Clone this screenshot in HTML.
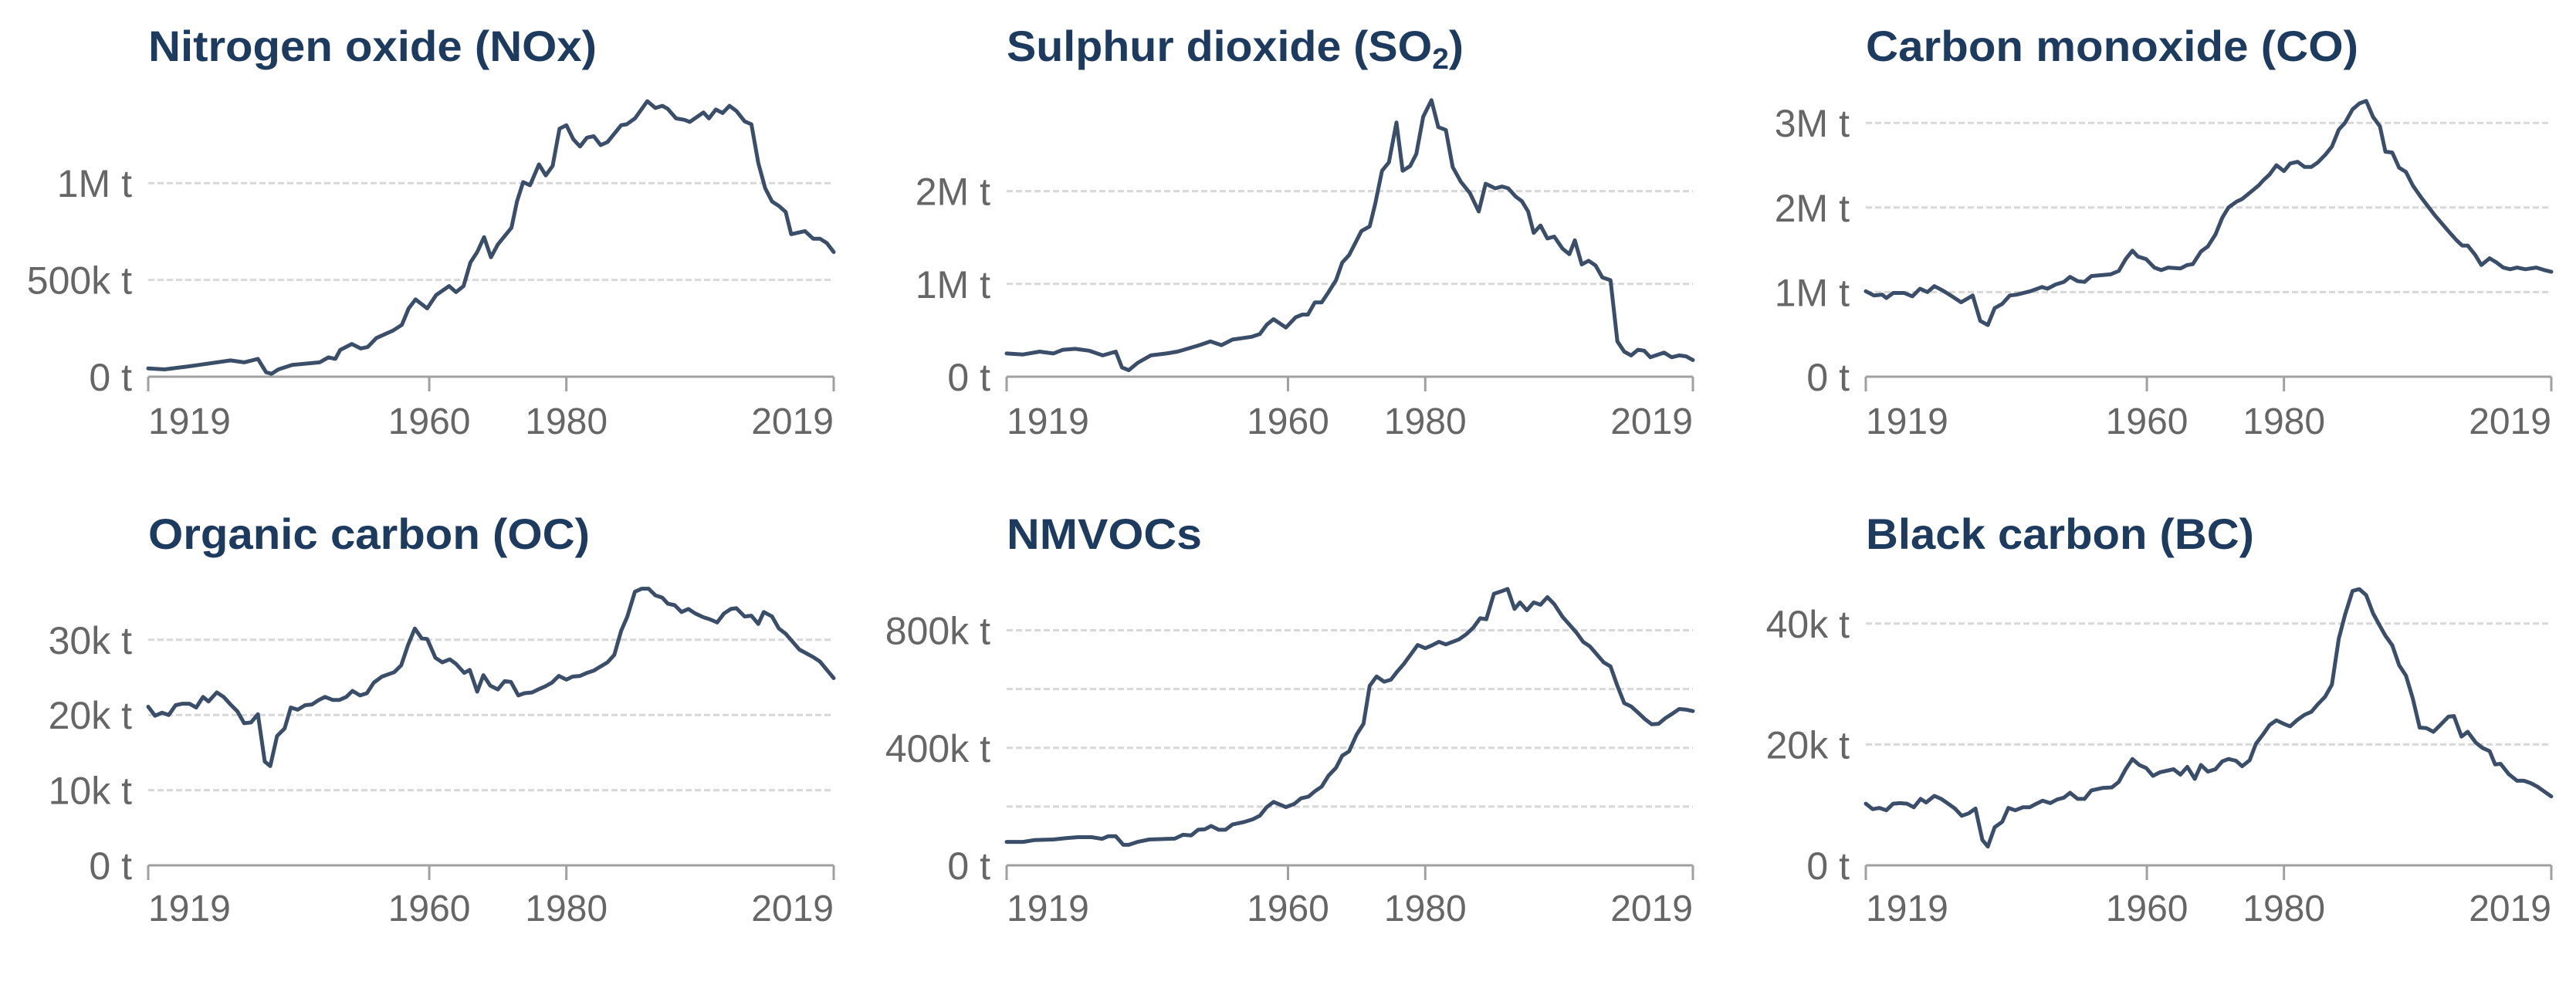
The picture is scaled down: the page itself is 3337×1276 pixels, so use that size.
<!DOCTYPE html>
<html>
<head>
<meta charset="utf-8">
<style>
html,body{margin:0;padding:0;background:#fff;}
svg{display:block;}
</style>
</head>
<body>
<svg id="chart" width="3337" height="1276" viewBox="0 0 3337 1276" xmlns="http://www.w3.org/2000/svg"></svg>
<script>
const xTicks = [1919, 1960, 1980, 2019];

const noxYears = [1919,1921.4,1925,1931,1933,1935,1936.2,1937,1938,1940,1944,1945.3,1946.3,1947,1948.7,1950,1951,1952.3,1954.7,1956,1957,1958,1959.7,1961,1962.9,1963.9,1965,1966,1967,1968,1969,1970,1972,1972.8,1973.7,1974.7,1976,1977,1978,1979,1980,1981,1982,1983,1984,1985,1986,1988,1988.8,1990,1991.8,1993,1994,1994.8,1996,1997.2,1998,2000,2000.8,2001.8,2002.8,2003.8,2004.8,2006,2007,2008,2009,2010,2011,2012,2012.8,2014.8,2016,2017,2018,2019];
const noxValues = [43,38,54,84,74,92,23,15,38,61,74,100,92,138,169,146,153,200,238,268,353,399,353,422,468,437,468,590,644,721,617,683,770,905,1005,989,1097,1040,1089,1281,1299,1227,1189,1235,1242,1196,1212,1299,1304,1334,1423,1388,1399,1383,1334,1327,1316,1365,1334,1380,1362,1399,1373,1319,1304,1104,974,905,882,851,736,752,713,713,690,644];

const so2Years = [1919,1921.4,1923.8,1925.8,1927.2,1929,1931,1933,1934.9,1935.8,1936.8,1938.1,1940,1942.3,1943.9,1945.3,1947.1,1948.7,1950.3,1951.9,1954.7,1955.9,1956.9,1957.9,1959.7,1961.1,1962.1,1962.9,1963.9,1964.9,1965.9,1967,1967.9,1968.9,1970.7,1971.9,1972.7,1973.7,1974.7,1975.8,1976.7,1977.8,1978.7,1979.7,1980.9,1981.9,1983,1984,1985.2,1986.5,1987.8,1988.8,1990.2,1991.2,1992.1,1993.2,1994.1,1995,1995.8,1996.8,1997.8,1998.8,2000,2001,2001.8,2002.8,2003.8,2004.8,2005.8,2007,2008,2009,2010,2011,2011.9,2012.8,2014.8,2015.9,2017,2018,2019];
const so2Values = [0.25,0.24,0.27,0.25,0.29,0.30,0.28,0.23,0.27,0.10,0.07,0.15,0.23,0.25,0.27,0.30,0.34,0.38,0.34,0.40,0.43,0.46,0.56,0.62,0.53,0.64,0.67,0.67,0.80,0.80,0.91,1.04,1.23,1.31,1.57,1.62,1.86,2.22,2.31,2.74,2.22,2.27,2.40,2.80,2.98,2.69,2.66,2.26,2.10,1.98,1.78,2.08,2.03,2.05,2.03,1.94,1.89,1.78,1.55,1.63,1.49,1.51,1.38,1.32,1.47,1.21,1.25,1.20,1.07,1.04,0.38,0.27,0.23,0.29,0.28,0.21,0.26,0.21,0.23,0.22,0.18];

const coYears = [1919,1920.2,1921.4,1922,1923,1924.6,1925.8,1926.9,1928,1929,1930.2,1931.4,1932.9,1934.6,1935.7,1936.8,1937.8,1938.9,1940,1941,1943,1944.7,1945.5,1946.7,1947.9,1948.8,1949.9,1950.9,1951.9,1954.7,1955.9,1956.9,1957.9,1958.7,1959.9,1961.1,1962.1,1963.1,1964.9,1965.9,1966.7,1967.9,1968.9,1970,1971,1971.9,1973.1,1973.9,1975.1,1976.3,1977.1,1977.9,1978.9,1980,1980.9,1982,1983,1984,1984.9,1986,1987,1988,1988.9,1990,1991,1992,1993,1994,1994.8,1995.8,1996.8,1997.8,1998.8,2000,2002,2004,2005.2,2006,2006.8,2007.9,2008.8,2010,2011,2012,2013,2014,2015.2,2016.8,2018,2019];
const coValues = [1.01,0.96,0.97,0.93,0.99,0.99,0.95,1.04,1.00,1.07,1.02,0.96,0.88,0.96,0.66,0.61,0.81,0.86,0.96,0.97,1.01,1.06,1.04,1.09,1.12,1.18,1.13,1.12,1.19,1.21,1.25,1.39,1.49,1.42,1.39,1.29,1.26,1.29,1.28,1.32,1.33,1.48,1.54,1.68,1.88,2.00,2.07,2.10,2.18,2.26,2.33,2.39,2.50,2.43,2.52,2.54,2.48,2.48,2.53,2.62,2.72,2.92,3.00,3.16,3.23,3.26,3.07,2.96,2.66,2.65,2.47,2.42,2.26,2.12,1.91,1.72,1.61,1.55,1.55,1.44,1.32,1.40,1.35,1.29,1.27,1.29,1.27,1.29,1.26,1.24];

const ocYears = [1919,1920,1921,1922,1923,1924,1925,1926,1927,1927.8,1929,1930,1931,1932,1933,1934,1935,1936,1936.8,1937.8,1938.9,1939.8,1940.8,1941.9,1942.9,1943.9,1944.8,1945.9,1946.9,1947.9,1948.8,1949.9,1950.9,1951.9,1953.1,1954.9,1955.9,1956.9,1957.9,1958.9,1959.7,1960.9,1961.9,1963,1963.9,1965.1,1965.9,1967,1967.9,1968.9,1970,1971,1971.9,1973,1973.9,1975,1975.9,1976.9,1977.9,1978.9,1980,1980.9,1982,1983,1984,1984.9,1986,1987,1988,1988.9,1990,1991,1992,1993,1994,1994.8,1995.8,1996.8,1997.8,1998.8,2000,2001,2002,2003,2004,2004.8,2006,2007,2008,2008.8,2010,2011,2012,2014,2016,2017,2018,2019];
const ocValues = [21.1,19.9,20.3,20.0,21.3,21.5,21.5,21.0,22.4,21.8,23.0,22.4,21.4,20.5,18.9,19.0,20.1,13.8,13.2,17.2,18.2,21.0,20.7,21.3,21.4,22.0,22.4,22.0,22.0,22.4,23.2,22.6,22.9,24.3,25.1,25.7,26.6,29.3,31.5,30.2,30.1,27.6,27.0,27.4,26.8,25.6,26.0,23.1,25.3,23.9,23.4,24.5,24.4,22.6,22.9,23.0,23.4,23.8,24.3,25.2,24.7,25.1,25.2,25.6,25.9,26.4,27.0,28.0,31.2,33.1,36.4,36.8,36.8,35.9,35.6,34.8,34.6,33.7,34.1,33.5,33.0,32.7,32.3,33.5,34.1,34.2,33.1,33.2,32.1,33.7,33.1,31.5,30.8,28.7,27.7,27.1,26.0,24.9];

const nmvocYears = [1919,1921.4,1923,1925.8,1927.8,1929.4,1931.4,1932.9,1933.8,1934.9,1936,1936.8,1938.1,1939.8,1943.5,1944.7,1945.9,1946.9,1947.9,1948.8,1949.9,1950.9,1951.9,1953.5,1954.9,1955.9,1956.9,1957.9,1959.7,1960.9,1961.9,1963,1963.9,1964.9,1965.9,1967,1967.9,1968.9,1970,1971,1971.9,1972.9,1974,1975,1975.9,1976.9,1977.9,1978.9,1980,1980.9,1982,1983,1984.9,1986,1987,1988,1988.9,1990,1991,1992,1993,1993.8,1994.8,1995.8,1996.8,1997.8,1998.8,2000,2002,2003,2004,2006,2007,2008,2009,2010,2011,2012,2013,2014,2015,2016,2017,2018,2019];
const nmvocValues = [80,80,86,88,93,96,96,90,99,99,70,70,80,88,91,104,102,121,123,134,121,121,139,147,157,169,198,216,198,209,228,234,252,268,305,332,373,388,445,482,611,643,625,632,659,686,718,750,739,748,761,752,769,787,809,841,838,924,932,941,873,895,868,895,887,913,889,846,793,761,745,691,677,611,552,541,520,498,480,482,501,516,532,530,525];

const bcYears = [1919,1920,1921,1922,1923,1924,1925,1926,1927,1927.8,1929,1930,1931,1932,1933,1934,1935,1936,1936.8,1937.8,1938.9,1939.8,1940.8,1941.9,1942.9,1943.9,1944.8,1945.9,1946.9,1947.9,1948.8,1949.9,1950.9,1951.9,1953.5,1954.9,1955.9,1956.9,1957.9,1958.9,1959.9,1960.9,1961.9,1963.9,1964.9,1965.9,1967,1967.9,1968.9,1970,1971,1971.9,1973,1973.9,1975,1975.9,1976.9,1977.9,1978.9,1980,1980.9,1982,1983,1984,1984.9,1986,1987,1988,1988.9,1990,1991,1992,1993,1994,1994.8,1995.8,1996.8,1997.8,1998.8,1999.8,2000.8,2001.8,2002.8,2004,2004.8,2005.9,2006.8,2008,2009,2010,2010.8,2011.6,2012.8,2014,2015,2016,2017,2018,2019];
const bcValues = [10.2,9.3,9.5,9.1,10.2,10.3,10.2,9.6,11.0,10.4,11.5,11.0,10.2,9.4,8.2,8.6,9.4,4.2,3.1,6.3,7.2,9.5,9.1,9.6,9.6,10.2,10.7,10.3,10.9,11.2,12.0,11.0,11.0,12.4,12.8,12.9,13.8,15.9,17.6,16.6,16.1,14.8,15.4,15.9,15.0,16.3,14.3,16.6,15.5,15.9,17.2,17.6,17.3,16.4,17.4,20.1,21.6,23.2,24.0,23.4,23.0,24.1,24.9,25.4,26.6,27.9,29.9,37.5,41.4,45.4,45.7,44.7,41.7,39.6,38.0,36.4,33.1,31.4,27.6,22.8,22.7,22.1,23.2,24.6,24.7,21.3,22.1,20.3,19.4,18.9,16.7,16.8,15.1,14.0,14.0,13.6,13.0,12.2,11.4];

const noxGrid = [500, 1000];          const noxLabels = ["0 t","500k t","1M t"];
const so2Grid = [1, 2];               const so2Labels = ["0 t","1M t","2M t"];
const coGrid = [1, 2, 3];             const coLabels = ["0 t","1M t","2M t","3M t"];
const ocGrid = [10, 20, 30];          const ocLabels = ["0 t","10k t","20k t","30k t"];
const nmvocGrid = [200, 400, 600, 800]; const nmvocLabelVals = [0, 400, 800]; const nmvocLabels = ["0 t","400k t","800k t"];
const bcGrid = [20, 40];              const bcLabels = ["0 t","20k t","40k t"];

const NS = "http://www.w3.org/2000/svg";
const svg = document.getElementById('chart');
function mk(tag, attrs, parent){
  const e = document.createElementNS(NS, tag);
  for (const k in attrs) e.setAttribute(k, attrs[k]);
  (parent || svg).appendChild(e);
  return e;
}

const panels = [
  {key:'nox', title:'Nitrogen oxide (NOx)', tw:581, x0:192, x1:1080, base:488, pxPer:0.2508, years:noxYears, vals:noxValues, grid:noxGrid, labVals:[0,500,1000], labs:noxLabels, row:0},
  {key:'so2', title:'SO2', tw:592, x0:1304, x1:2193, base:488, pxPer:120.2, years:so2Years, vals:so2Values, grid:so2Grid, labVals:[0,1,2], labs:so2Labels, row:0},
  {key:'co', title:'Carbon monoxide (CO)', tw:638, x0:2417, x1:3305, base:488, pxPer:109.6, years:coYears, vals:coValues, grid:coGrid, labVals:[0,1,2,3], labs:coLabels, row:0},
  {key:'oc', title:'Organic carbon (OC)', tw:572, x0:192, x1:1080, base:1121, pxPer:9.74, years:ocYears, vals:ocValues, grid:ocGrid, labVals:[0,10,20,30], labs:ocLabels, row:1},
  {key:'nmvoc', title:'NMVOCs', tw:253, x0:1304, x1:2193, base:1121, pxPer:0.3806, years:nmvocYears, vals:nmvocValues, grid:nmvocGrid, labVals:nmvocLabelVals, labs:nmvocLabels, row:1},
  {key:'bc', title:'Black carbon (BC)', tw:503, x0:2417, x1:3305, base:1121, pxPer:7.83, years:bcYears, vals:bcValues, grid:bcGrid, labVals:[0,20,40], labs:bcLabels, row:1}
];

panels.forEach(p => {
  const g = mk('g', {});
  
  
  const xs = y => p.x0 + (y - 1919) / 100 * (p.x1 - p.x0);
  const ys = v => p.base - v * p.pxPer;
  const titleY = p.row === 0 ? 79 : 711;
  const yearY = p.row === 0 ? 562 : 1193;

  const t = mk('text', {x:p.x0, y:titleY, 'font-family':'Liberation Sans, sans-serif', 'font-weight':'bold', 'font-size':56, fill:'#1d3a5f', textLength:p.tw, lengthAdjust:'spacingAndGlyphs'}, g);
  
  
  if (p.key === 'so2') {
    t.appendChild(document.createTextNode('Sulphur dioxide (SO'));
    const s = mk('tspan', {'font-size':38, dy:10}, t);
    s.textContent = '2';
    const s2 = mk('tspan', {dy:-10}, t);
    s2.textContent = ')';
  } else {
    t.textContent = p.title;
  }

  p.grid.forEach(v => {
    const l = mk('line', {x1:p.x0, x2:p.x1, y1:ys(v), y2:ys(v), stroke:'#d8d8d8', 'stroke-width':3, 'stroke-dasharray':'8,4'}, g);
    
    
  });

  p.labVals.forEach((v, i) => {
    const tx = mk('text', {x:p.x0 - 21, y:ys(v) + 18, 'text-anchor':'end', 'font-family':'Liberation Sans, sans-serif', 'font-size':50, fill:'#666'}, g);
    
    
    tx.textContent = p.labs[i];
  });

  const ax = mk('line', {x1:p.x0, x2:p.x1, y1:p.base, y2:p.base, stroke:'#a0a0a0', 'stroke-width':3}, g);
  
  
  xTicks.forEach((yr, i) => {
    const tk = mk('line', {x1:xs(yr), x2:xs(yr), y1:p.base, y2:p.base + 19, stroke:'#a0a0a0', 'stroke-width':3}, g);
    
    
    const anchor = i === 0 ? 'start' : (i === xTicks.length - 1 ? 'end' : 'middle');
    const tl = mk('text', {x:xs(yr), y:yearY, 'text-anchor':anchor, 'font-family':'Liberation Sans, sans-serif', 'font-size':48, fill:'#666'}, g);
    
    
    tl.textContent = String(yr);
  });

  const d = p.years.map((yr, i) => (i ? 'L' : 'M') + xs(yr).toFixed(1) + ',' + ys(p.vals[i]).toFixed(1)).join(' ');
  const path = mk('path', {d:d, fill:'none', stroke:'#3a4d69', 'stroke-width':5, 'stroke-linejoin':'round', 'stroke-linecap':'round'}, g);
  
  
});
</script>
</body>
</html>
